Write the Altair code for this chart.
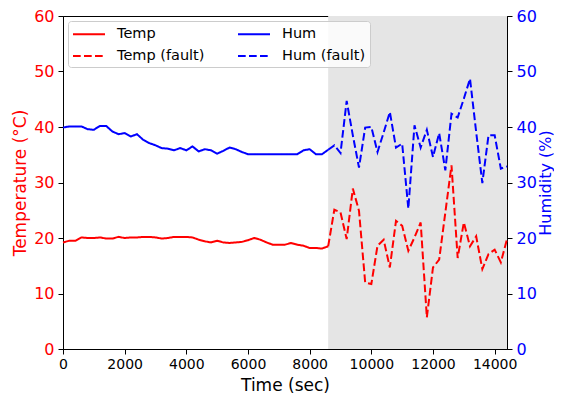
import altair as alt
import pandas as pd

# sample times (s), every 200 s over 4 hours
times = list(range(0, 14401, 200))
fault_start = 8600
fault_end = 14400

# readings before the fault (0 .. 8600 s)
temp_normal = [19.2, 19.5, 19.5, 20.1, 20.0, 20.0, 20.1, 19.9, 19.9, 20.2,
               20.0, 20.1, 20.1, 20.2, 20.2, 20.1, 19.9, 20.0, 20.2, 20.2,
               20.2, 20.1, 19.7, 19.4, 19.2, 19.5, 19.2, 19.1, 19.2, 19.3,
               19.6, 20.0, 19.7, 19.2, 18.8, 18.8, 18.8, 19.1, 18.8, 18.6,
               18.2, 18.2, 18.1, 18.5]
hum_normal = [39.9, 40.1, 40.1, 40.1, 39.6, 39.5, 40.2, 40.2, 39.2, 38.7,
              38.9, 38.3, 38.7, 37.7, 37.1, 36.7, 36.2, 36.1, 35.8, 36.2,
              35.8, 36.5, 35.6, 36.0, 35.8, 35.2, 35.7, 36.3, 36.0, 35.5,
              35.1, 35.1, 35.1, 35.1, 35.1, 35.1, 35.1, 35.1, 35.1, 35.8,
              36.0, 35.1, 35.1, 35.9]

# readings during the fault (8800 .. 14400 s)
temp_fault = [25.1, 24.6, 19.8, 28.9, 24.9, 12.0, 11.7, 18.6, 19.7, 14.7,
              23.1, 22.2, 17.7, 20.1, 22.8, 5.7, 14.7, 16.1, 24.6, 33.1,
              16.4, 22.8, 18.5, 20.3, 14.4, 17.1, 17.9, 15.6, 19.8]
hum_fault = [36.7, 35.3, 44.7, 38.5, 32.7, 39.9, 40.0, 35.5, 39.0, 42.7,
             36.3, 37.0, 25.3, 40.3, 36.3, 39.5, 34.6, 38.9, 32.2, 42.4,
             41.7, 45.1, 48.7, 39.1, 29.9, 38.5, 38.5, 32.5, 32.9]

x_ticks = [0, 2000, 4000, 6000, 8000, 10000, 12000, 14000]
y_ticks = [0, 10, 20, 30, 40, 50, 60]

n_norm = len(temp_normal)
t_norm = times[:n_norm]
t_fault = times[n_norm - 1:]

temp_df = pd.DataFrame({
    "time": t_norm + t_fault,
    "value": temp_normal + [temp_normal[-1]] + temp_fault,
    "series": ["Temp"] * n_norm + ["Temp (fault)"] * (len(temp_fault) + 1),
})
hum_df = pd.DataFrame({
    "time": t_norm + t_fault,
    "value": hum_normal + [hum_normal[-1]] + hum_fault,
    "series": ["Hum"] * n_norm + ["Hum (fault)"] * (len(hum_fault) + 1),
})
span_df = pd.DataFrame({"start": [fault_start], "end": [fault_end]})

FONT = "DejaVu Sans"
domain = ["Temp", "Temp (fault)", "Hum", "Hum (fault)"]
color_scale = alt.Scale(domain=domain, range=["#ff0000", "#ff0000", "#0000ff", "#0000ff"])
dash_scale = alt.Scale(domain=domain, range=[[1, 0], [7.7, 3.3], [1, 0], [7.7, 3.3]])

legend = alt.Legend(
    title=None, orient="top-left", offset=5, columns=2,
    symbolType="M-1,0H3", symbolSize=256, symbolStrokeWidth=2,
    labelFontSize=14.5, labelFont=FONT, labelColor="black",
    labelOffset=27, columnPadding=29, rowPadding=6, padding=4,
    fillColor="rgba(255,255,255,0.8)", strokeColor="#cccccc", cornerRadius=3,
)

x_scale = alt.Scale(domain=[0, 14400], nice=False, zero=False)
x_axis = alt.Axis(values=x_ticks, format="d", title="Time (sec)",
                  labelFontSize=14, titleFontSize=17, tickSize=5,
                  labelPadding=3, titlePadding=6, grid=False,
                  domainColor="black", tickColor="black",
                  labelColor="black", titleColor="black",
                  titleFontWeight="normal", labelFlush=False)

span = alt.Chart(span_df).mark_rect(color="#e5e5e5").encode(
    x=alt.X("start:Q", scale=x_scale, axis=x_axis),
    x2="end:Q",
)

temp_line = alt.Chart(temp_df).mark_line(strokeWidth=2).encode(
    x=alt.X("time:Q", scale=x_scale, axis=x_axis),
    y=alt.Y("value:Q", scale=alt.Scale(domain=[0, 60], nice=False),
            axis=alt.Axis(values=y_ticks, title="Temperature (°C)",
                          labelColor="#ff0000", titleColor="#ff0000",
                          labelFontSize=16, titleFontSize=17, tickSize=5,
                          labelPadding=4, titlePadding=4, grid=False,
                          domainColor="black", tickColor="black",
                          titleFontWeight="normal")),
    color=alt.Color("series:N", scale=color_scale, legend=legend),
    strokeDash=alt.StrokeDash("series:N", scale=dash_scale, legend=legend),
)

hum_line = alt.Chart(hum_df).mark_line(strokeWidth=2).encode(
    x=alt.X("time:Q", scale=x_scale, axis=x_axis),
    y=alt.Y("value:Q", scale=alt.Scale(domain=[0, 60], nice=False),
            axis=alt.Axis(orient="right", values=y_ticks, title="Humidity (%)",
                          labelColor="#0000ff", titleColor="#0000ff",
                          labelFontSize=16, titleFontSize=16, tickSize=5,
                          labelPadding=4, titlePadding=1, grid=False,
                          domainColor="black", tickColor="black",
                          titleAngle=270, titleBaseline="top",
                          titleFontWeight="normal")),
    color=alt.Color("series:N", scale=color_scale, legend=legend),
    strokeDash=alt.StrokeDash("series:N", scale=dash_scale, legend=legend),
)

chart = alt.layer(span, temp_line, hum_line).resolve_scale(
    y="independent"
).properties(
    width=444, height=333,
    autosize=alt.AutoSizeParams(type="none"),
    padding={"left": 55, "top": 8, "right": 47, "bottom": 50},
    background="white",
).configure(font=FONT).configure_view(stroke="black", strokeWidth=1)

chart.save("out.html", embed_options={"renderer": "svg", "actions": False})
